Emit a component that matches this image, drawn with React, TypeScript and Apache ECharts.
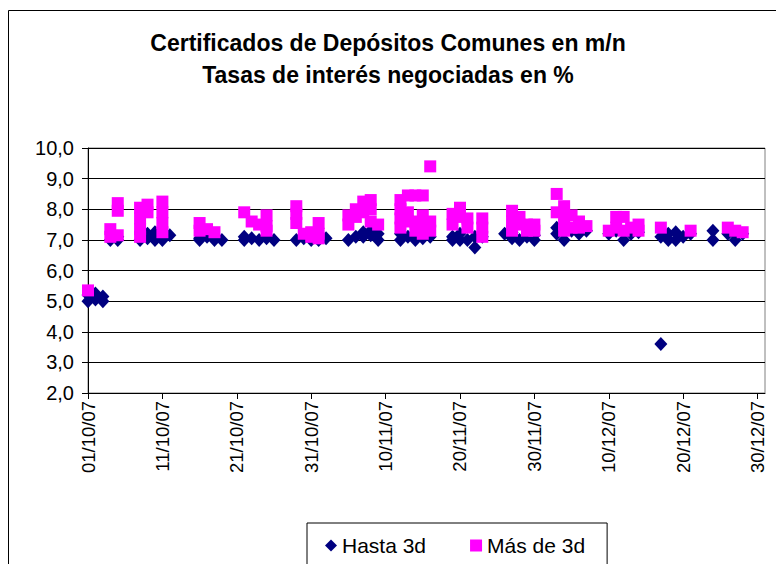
import React, { useEffect, useRef } from "react";
import * as echarts from "echarts";

// ---- Data (dates dd/mm/yy, rates in %) ----
const hastaDates = [
  "01/10/07", "01/10/07", "02/10/07", "02/10/07", "03/10/07", "03/10/07", "04/10/07", "05/10/07", "05/10/07",
  "08/10/07", "09/10/07", "09/10/07", "10/10/07", "10/10/07", "11/10/07", "11/10/07", "12/10/07",
  "16/10/07", "16/10/07", "17/10/07", "18/10/07", "19/10/07",
  "22/10/07", "22/10/07", "23/10/07", "24/10/07", "25/10/07", "26/10/07",
  "29/10/07", "30/10/07", "31/10/07", "01/11/07", "02/11/07",
  "05/11/07", "06/11/07", "07/11/07", "07/11/07", "08/11/07", "08/11/07", "09/11/07", "09/11/07",
  "12/11/07", "12/11/07", "13/11/07", "14/11/07", "15/11/07", "16/11/07",
  "19/11/07", "19/11/07", "20/11/07", "20/11/07", "21/11/07", "22/11/07", "22/11/07", "23/11/07",
  "26/11/07", "27/11/07", "27/11/07", "28/11/07", "29/11/07", "30/11/07", "30/11/07",
  "03/12/07", "03/12/07", "04/12/07", "04/12/07", "05/12/07", "06/12/07", "07/12/07",
  "10/12/07", "11/12/07", "12/12/07", "13/12/07", "14/12/07",
  "17/12/07", "17/12/07", "18/12/07", "18/12/07", "19/12/07", "19/12/07", "20/12/07", "21/12/07",
  "24/12/07", "24/12/07", "26/12/07", "27/12/07", "27/12/07", "28/12/07",
];
const hastaRates = [
  5.0, 5.2, 5.05, 5.25, 5.0, 5.15, 7.0, 7.0, 7.1,
  7.0, 7.05, 7.2, 7.0, 7.25, 7.0, 7.15, 7.15,
  7.0, 7.05, 7.1, 7.0, 7.0,
  7.0, 7.1, 7.05, 7.0, 7.05, 7.0,
  7.0, 7.05, 7.0, 7.0, 7.05,
  7.0, 7.1, 7.25, 7.1, 7.3, 7.15, 7.2, 7.0,
  7.2, 7.0, 7.1, 7.0, 7.05, 7.1,
  7.1, 7.0, 7.2, 7.0, 7.0, 6.75, 7.1, 7.1,
  7.2, 7.05, 7.25, 7.0, 7.1, 7.0, 7.15,
  7.4, 7.2, 7.3, 7.0, 7.3, 7.2, 7.3,
  7.2, 7.3, 7.0, 7.2, 7.25,
  3.6, 7.1, 7.2, 7.0, 7.25, 7.0, 7.1, 7.2,
  7.3, 7.0, 7.2, 7.0, 7.2, 7.2,
];

const masDates = [
  "01/10/07", "04/10/07", "04/10/07", "05/10/07", "05/10/07", "05/10/07",
  "08/10/07", "08/10/07", "08/10/07", "08/10/07", "09/10/07", "09/10/07",
  "11/10/07", "11/10/07", "11/10/07", "11/10/07",
  "16/10/07", "16/10/07", "17/10/07", "18/10/07",
  "22/10/07", "23/10/07", "24/10/07", "25/10/07", "25/10/07", "25/10/07",
  "29/10/07", "29/10/07", "29/10/07", "30/10/07", "31/10/07", "31/10/07",
  "01/11/07", "01/11/07", "01/11/07",
  "05/11/07", "05/11/07", "06/11/07", "06/11/07", "07/11/07", "07/11/07",
  "08/11/07", "08/11/07", "08/11/07", "09/11/07",
  "12/11/07", "12/11/07", "12/11/07", "12/11/07", "13/11/07", "13/11/07", "13/11/07",
  "14/11/07", "14/11/07", "14/11/07", "15/11/07", "15/11/07", "15/11/07", "15/11/07",
  "16/11/07", "16/11/07", "16/11/07",
  "19/11/07", "19/11/07", "20/11/07", "20/11/07", "21/11/07", "21/11/07",
  "23/11/07", "23/11/07", "23/11/07",
  "27/11/07", "27/11/07", "27/11/07", "28/11/07", "28/11/07", "29/11/07", "29/11/07", "30/11/07", "30/11/07",
  "03/12/07", "03/12/07", "04/12/07", "04/12/07", "04/12/07", "04/12/07", "05/12/07", "05/12/07",
  "06/12/07", "06/12/07", "07/12/07",
  "10/12/07", "11/12/07", "11/12/07", "12/12/07", "12/12/07", "13/12/07", "14/12/07", "14/12/07",
  "17/12/07", "21/12/07", "26/12/07", "27/12/07", "28/12/07",
];
const masRates = [
  5.35, 7.35, 7.1, 8.2, 7.95, 7.15,
  8.05, 7.7, 7.35, 7.1, 8.15, 7.9,
  8.25, 7.9, 7.55, 7.25,
  7.55, 7.3, 7.35, 7.25,
  7.9, 7.6, 7.5, 7.8, 7.45, 7.3,
  8.1, 7.85, 7.55, 7.2, 7.25, 7.1,
  7.55, 7.2, 7.05,
  7.8, 7.5, 8.0, 7.75, 8.25, 7.9,
  8.3, 8.0, 7.6, 7.5,
  8.3, 8.0, 7.7, 7.4, 8.45, 7.9, 7.6,
  8.45, 7.6, 7.3, 8.45, 7.8, 7.5, 7.2,
  9.4, 7.6, 7.3,
  7.85, 7.5, 8.05, 7.75, 7.7, 7.4,
  7.7, 7.4, 7.1,
  7.95, 7.6, 7.3, 7.75, 7.5, 7.5, 7.3, 7.5, 7.3,
  8.5, 7.9, 8.1, 7.8, 7.5, 7.3, 7.8, 7.4,
  7.6, 7.4, 7.45,
  7.3, 7.75, 7.4, 7.75, 7.3, 7.4, 7.5, 7.3,
  7.4, 7.3, 7.4, 7.3, 7.25,
];

const seriesNames = ["Hasta 3d", "Más de 3d"];
const titleLines = ["Certificados de Depósitos Comunes en m/n", "Tasas de interés negociadas en %"];

const BASE = Date.UTC(2007, 9, 1);
const DAY = 86400000;
const toDay = (s: string) => {
  const [d, m, y] = s.split("/").map(Number);
  return Math.round((Date.UTC(2000 + y, m - 1, d) - BASE) / DAY);
};
const fmtDay = (v: number) => {
  const dt = new Date(BASE + v * DAY);
  const p = (n: number) => String(n).padStart(2, "0");
  return `${p(dt.getUTCDate())}/${p(dt.getUTCMonth() + 1)}/${String(dt.getUTCFullYear()).slice(2)}`;
};

const FONT = "'Liberation Sans', Arial, sans-serif";

export default function App() {
  const ref = useRef<HTMLDivElement>(null);
  useEffect(() => {
    if (!ref.current) return;
    const chart = echarts.init(ref.current, null, { renderer: "svg" });
    const hasta = hastaDates.map((d, i) => [toDay(d), hastaRates[i]]);
    const mas = masDates.map((d, i) => [toDay(d), masRates[i]]);
    chart.setOption({
      animation: false,
      backgroundColor: "#fff",
      textStyle: { fontFamily: FONT },
      title: {
        text: titleLines.join("\n"),
        left: "center",
        top: 22,
        textStyle: { fontFamily: FONT, fontSize: 23, fontWeight: "bold", color: "#000", lineHeight: 32 },
      },
      graphic: [
        {
          type: "rect",
          left: 6,
          top: 8,
          shape: { width: 800, height: 600 },
          style: { fill: "none", stroke: "#000", lineWidth: 1 },
          silent: true,
          z: -1,
        },
      ],
      grid: {
        left: 88,
        right: 11,
        top: 148,
        bottom: 171,
        show: true,
        borderColor: "#808080",
        borderWidth: 1,
      },
      legend: {
        data: [
          { name: seriesNames[0], icon: "diamond" },
          { name: seriesNames[1], icon: "rect" },
        ],
        left: 307,
        top: 523,
        itemWidth: 12,
        itemHeight: 12,
        itemGap: 44,
        borderColor: "#000",
        borderWidth: 1,
        padding: [12, 22, 30, 18],
        textStyle: { fontFamily: FONT, fontSize: 21, color: "#000" },
      },
      xAxis: {
        type: "value",
        min: 0,
        max: 91,
        interval: 10,
        splitLine: { show: false },
        axisLine: { lineStyle: { color: "#000", width: 1 } },
        axisTick: { show: true, inside: false, length: 6, lineStyle: { color: "#000" } },
        axisLabel: {
          rotate: 90,
          fontSize: 18.5,
          color: "#000",
          margin: 8,
          showMaxLabel: false,
          formatter: (v: number) => (v % 10 === 0 ? fmtDay(v) : ""),
        },
      },
      yAxis: {
        type: "value",
        min: 2,
        max: 10,
        interval: 1,
        axisLine: { show: true, lineStyle: { color: "#000", width: 1 } },
        axisTick: { show: true, inside: false, length: 6, lineStyle: { color: "#000" } },
        splitLine: { show: true, lineStyle: { color: "#000", width: 1 } },
        axisLabel: {
          fontSize: 20,
          color: "#000",
          margin: 14,
          formatter: (v: number) => v.toFixed(1).replace(".", ","),
        },
      },
      series: [
        {
          name: seriesNames[0],
          type: "scatter",
          symbol: "diamond",
          symbolSize: [13, 14],
          itemStyle: { color: "#000080", opacity: 1 },
          data: hasta,
        },
        {
          name: seriesNames[1],
          type: "scatter",
          symbol: "rect",
          symbolSize: 12,
          itemStyle: { color: "#FF00FF", opacity: 1 },
          data: mas,
        },
      ],
    });
    return () => chart.dispose();
  }, []);
  return <div ref={ref} style={{ width: 776, height: 564, position: "absolute", left: 0, top: 0 }} />;
}
